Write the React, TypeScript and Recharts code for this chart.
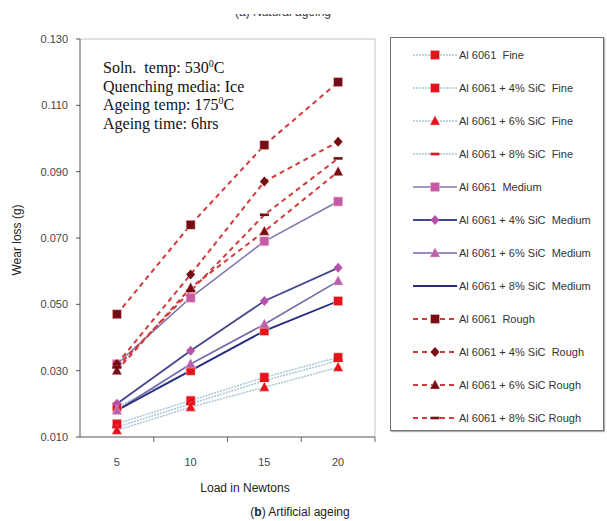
import React from 'react';
import { LineChart, Line, XAxis, YAxis, ReferenceLine } from 'recharts';

// loads (N) and wear loss (g) per series
const LOADS = [5, 10, 15, 20];
const X_TICKS = [2.5, 5, 7.5, 10, 12.5, 15, 17.5, 20, 22.5];
const Y_TICKS = [0.01, 0.03, 0.05, 0.07, 0.09, 0.11, 0.13];

const fine = [0.014, 0.021, 0.028, 0.034];
const fine4 = [0.019, 0.030, 0.042, 0.051];
const fine6 = [0.012, 0.019, 0.025, 0.031];
const fine8 = [0.013, 0.020, 0.027, 0.033];
const medium = [0.032, 0.052, 0.069, 0.081];
const medium4 = [0.020, 0.036, 0.051, 0.061];
const medium6 = [0.018, 0.032, 0.044, 0.057];
const medium8 = [0.018, 0.030, 0.042, 0.051];
const rough = [0.047, 0.074, 0.098, 0.117];
const rough4 = [0.032, 0.059, 0.087, 0.099];
const rough6 = [0.030, 0.055, 0.072, 0.090];
const rough8 = [0.031, 0.054, 0.077, 0.094];

type Shape = 'square' | 'diamond' | 'triangle' | 'dash' | 'none';

interface Series {
  key: string;
  name: string;
  values: number[];
  stroke: string;
  dash?: string;
  width: number;
  shape: Shape;
  marker: string;
}

const FINE_LINE = '#a9c6d6';
const RED = '#e5121c';
const MAROON = '#760d14';
const ROUGH_LINE = '#d23b3b';

const SERIES: Series[] = [
  { key: 'fine', name: 'Al 6061  Fine', values: fine, stroke: FINE_LINE, dash: '2 1', width: 1.5, shape: 'square', marker: RED },
  { key: 'fine4', name: 'Al 6061 + 4% SiC  Fine', values: fine4, stroke: FINE_LINE, dash: '2 1', width: 1.5, shape: 'square', marker: RED },
  { key: 'fine6', name: 'Al 6061 + 6% SiC  Fine', values: fine6, stroke: FINE_LINE, dash: '2 1', width: 1.5, shape: 'triangle', marker: RED },
  { key: 'fine8', name: 'Al 6061 + 8% SiC  Fine', values: fine8, stroke: FINE_LINE, dash: '2 1', width: 1.5, shape: 'dash', marker: RED },
  { key: 'medium', name: 'Al 6061  Medium', values: medium, stroke: '#7d78b2', width: 1.5, shape: 'square', marker: '#c65aa8' },
  { key: 'medium4', name: 'Al 6061 + 4% SiC  Medium', values: medium4, stroke: '#44468f', width: 1.8, shape: 'diamond', marker: '#b652aa' },
  { key: 'medium6', name: 'Al 6061 + 6% SiC  Medium', values: medium6, stroke: '#7467aa', width: 1.6, shape: 'triangle', marker: '#b95fb2' },
  { key: 'medium8', name: 'Al 6061 + 8% SiC  Medium', values: medium8, stroke: '#262d80', width: 1.8, shape: 'none', marker: '#262d80' },
  { key: 'rough', name: 'Al 6061  Rough', values: rough, stroke: ROUGH_LINE, dash: '5 4', width: 2, shape: 'square', marker: MAROON },
  { key: 'rough4', name: 'Al 6061 + 4% SiC  Rough', values: rough4, stroke: ROUGH_LINE, dash: '5 4', width: 2, shape: 'diamond', marker: MAROON },
  { key: 'rough6', name: 'Al 6061 + 6% SiC Rough', values: rough6, stroke: ROUGH_LINE, dash: '5 4', width: 2, shape: 'triangle', marker: MAROON },
  { key: 'rough8', name: 'Al 6061 + 8% SiC Rough', values: rough8, stroke: ROUGH_LINE, dash: '5 4', width: 2, shape: 'dash', marker: MAROON },
];

const data = LOADS.map((load, i) => {
  const row: Record<string, number> = { load };
  SERIES.forEach((s) => { row[s.key] = s.values[i]; });
  return row;
});

function Marker({ cx, cy, shape, color, edge }: { cx: number; cy: number; shape: Shape; color: string; edge?: string }) {
  const st = edge || '#f4c0c0';
  if (shape === 'square') return <rect x={cx - 4.5} y={cy - 4.5} width={9} height={9} fill={color} stroke={st} strokeWidth={0.6} />;
  if (shape === 'diamond') return <polygon points={`${cx},${cy - 5} ${cx + 4.5},${cy} ${cx},${cy + 5} ${cx - 4.5},${cy}`} fill={color} />;
  if (shape === 'triangle') return <polygon points={`${cx},${cy - 5.5} ${cx + 5},${cy + 4} ${cx - 5},${cy + 4}`} fill={color} stroke={st} strokeWidth={0.5} />;
  if (shape === 'dash') return <rect x={cx - 4.5} y={cy - 1.3} width={9} height={2.6} fill={color} />;
  return null;
}

const FONT = '"Liberation Sans", Arial, sans-serif';

function XTick(props: any) {
  const { x, y, payload } = props;
  const v = payload.value;
  if (LOADS.includes(v)) {
    return (
      <text x={x} y={y + 29} textAnchor="middle" fontSize={11} fill="#444" fontFamily={FONT}>{v}</text>
    );
  }
  if (v === X_TICKS[0]) return <g />;
  return <line x1={x} x2={x} y1={y} y2={y + 5} stroke="#666" />;
}

function LegendIcon({ s }: { s: Series }) {
  return (
    <svg width={44} height={12} style={{ display: 'block' }}>
      <line x1={0} x2={44} y1={6} y2={6} stroke={s.stroke} strokeWidth={s.width} strokeDasharray={s.dash} />
      {s.shape !== 'none' && <Marker cx={22} cy={6} shape={s.shape} color={s.marker} />}
    </svg>
  );
}

const SUP = { fontSize: 10, verticalAlign: '6px', lineHeight: 0 };

export default function App() {
  return (
    <div style={{ position: 'absolute', left: 0, top: 0, width: 607, height: 521, background: '#fff', fontFamily: FONT }}>
      {/* clipped caption of the panel above */}
      <div style={{ position: 'absolute', left: 0, top: 14, width: 607, height: 10, overflow: 'hidden' }}>
        <div style={{ position: 'absolute', left: 0, top: -9, width: 566, textAlign: 'center', fontSize: 12, color: '#333', lineHeight: '14px' }}>
          (a) Natural ageing
        </div>
      </div>

      <LineChart width={607} height={521} data={data} margin={{ top: 39, right: 232, bottom: 54, left: 0 }}>
        <XAxis
          dataKey="load"
          type="number"
          domain={[2.5, 22.5]}
          ticks={X_TICKS}
          interval={0}
          height={30}
          tickSize={0}
          tickMargin={0}
          tickLine={false}
          axisLine={{ stroke: '#555' }}
          tick={<XTick />}
        />
        <YAxis
          type="number"
          domain={[0.01, 0.13]}
          ticks={Y_TICKS}
          interval={0}
          width={80}
          tickSize={4}
          tickMargin={8}
          tickFormatter={(v: number) => v.toFixed(3)}
          tick={{ fontSize: 11, fill: '#444', fontFamily: FONT }}
          tickLine={{ stroke: '#555' }}
          axisLine={{ stroke: '#555' }}
        />
        <ReferenceLine y={0.13} stroke="#c4c4c4" />
        <ReferenceLine x={22.5} stroke="#c4c4c4" />
        {SERIES.map((s) => (
          <Line
            key={s.key}
            dataKey={s.key}
            name={s.name}
            type="linear"
            stroke={s.stroke}
            strokeWidth={s.width}
            strokeDasharray={s.dash}
            isAnimationActive={false}
            activeDot={false}
            dot={(p: any) => (
              <Marker key={`${s.key}-${p.index}`} cx={p.cx} cy={p.cy} shape={s.shape} color={s.marker} />
            )}
          />
        ))}
      </LineChart>

      {/* conditions annotation */}
      <div style={{ position: 'absolute', left: 103, top: 59, fontFamily: '"Liberation Serif", "Times New Roman", serif', fontSize: 16, lineHeight: '18.5px', color: '#111', whiteSpace: 'pre' }}>
        <div>Soln.  temp: 530<sup style={SUP}>0</sup>C</div>
        <div>Quenching media: Ice</div>
        <div>Ageing temp: 175<sup style={SUP}>0</sup>C</div>
        <div>Ageing time: 6hrs</div>
      </div>

      {/* axis titles and caption */}
      <div style={{ position: 'absolute', left: 17, top: 240, transform: 'translate(-50%, -50%) rotate(-90deg)', fontSize: 12, color: '#222', whiteSpace: 'nowrap' }}>
        Wear loss (g)
      </div>
      <div style={{ position: 'absolute', left: 245, top: 488, transform: 'translate(-50%, -50%)', fontSize: 12, color: '#222', whiteSpace: 'nowrap' }}>
        Load in Newtons
      </div>
      <div style={{ position: 'absolute', left: 300, top: 512, transform: 'translate(-50%, -50%)', fontSize: 12, color: '#222', whiteSpace: 'nowrap' }}>
        (<b>b</b>) Artificial ageing
      </div>

      {/* legend */}
      <div style={{ position: 'absolute', left: 390, top: 37, width: 214, height: 394, border: '1px solid #707070', boxShadow: '1px 1px 1px #b0b0b0', boxSizing: 'border-box' }}>
        {SERIES.map((s, i) => (
          <div key={s.key} style={{ position: 'absolute', left: 22, top: 11 + i * 33, height: 12, display: 'flex', alignItems: 'center' }}>
            <LegendIcon s={s} />
            <span style={{ marginLeft: 2, fontSize: 11, color: '#333', whiteSpace: 'pre', lineHeight: '12px' }}>{s.name}</span>
          </div>
        ))}
      </div>
    </div>
  );
}
